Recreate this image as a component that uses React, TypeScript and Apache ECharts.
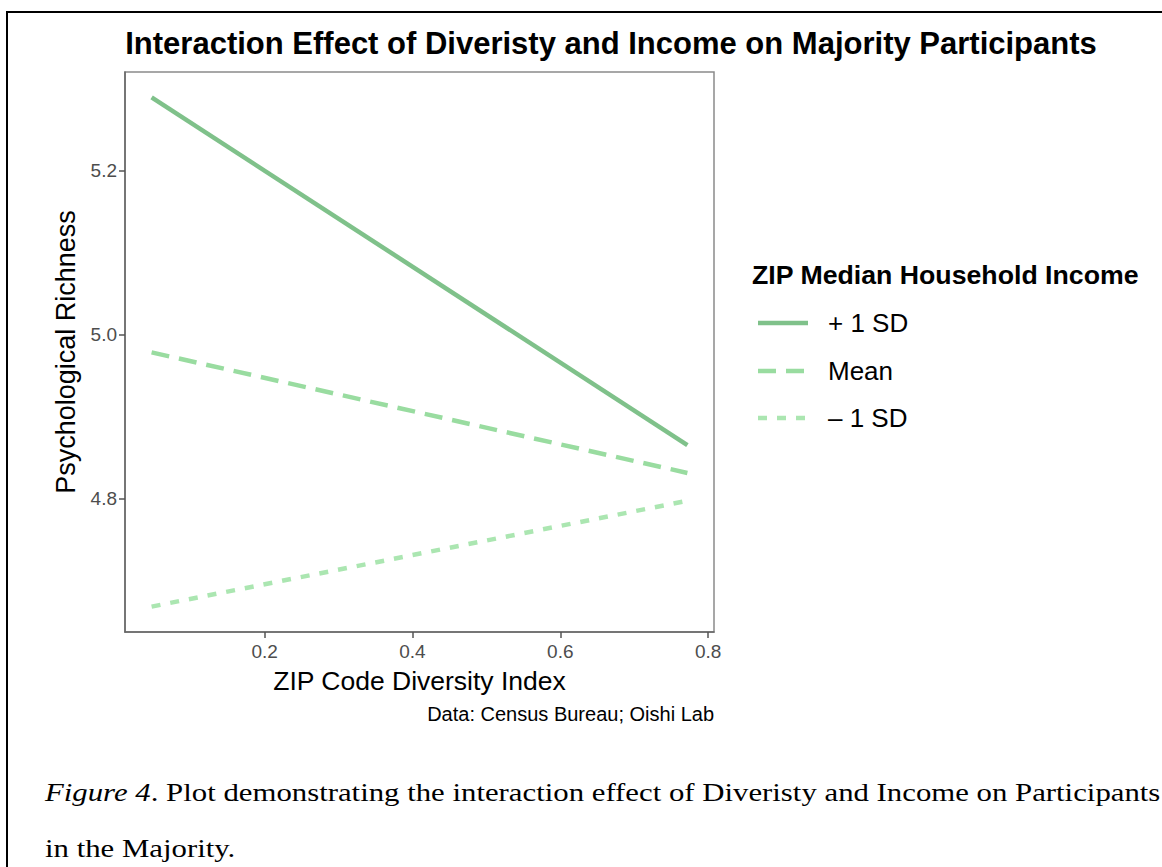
import React, { useEffect, useRef } from "react";
import * as echarts from "echarts";

// Predicted simple slopes at the low and high ends of the diversity index
const diversity = [0.047, 0.772];
const plusOneSD = [5.289, 4.865];
const meanIncome = [4.978, 4.831];
const minusOneSD = [4.668, 4.797];

const seriesNames = ["+ 1 SD", "Mean", "\u2013 1 SD"];
const seriesColors = ["#7fc18a", "#99dca0", "#abe6b1"];
const seriesDashes: (number[] | null)[] = [null, [18, 10], [9, 10]];

const xTicks = [0.2, 0.4, 0.6, 0.8];
const yTicks = [4.8, 5.0, 5.2];

const SANS = "'Liberation Sans', Arial, Helvetica, sans-serif";
const SERIF = "'Liberation Serif', 'Times New Roman', serif";

export default function App() {
  const ref = useRef<HTMLDivElement>(null);

  useEffect(() => {
    if (!ref.current) return;
    const chart = echarts.init(ref.current, null, { renderer: "svg" });

    const groups = [plusOneSD, meanIncome, minusOneSD];
    const series = groups.map((vals, i) => ({
      name: seriesNames[i],
      type: "line",
      data: diversity.map((x, j) => [x, vals[j]]),
      showSymbol: false,
      symbol: "none",
      lineStyle: {
        color: seriesColors[i],
        width: 4.5,
        type: seriesDashes[i] ?? "solid",
        cap: "butt",
      },
      z: 3,
    }));

    const legendY = [323, 371, 418];
    const legendGraphics: any[] = [];
    seriesNames.forEach((name, i) => {
      legendGraphics.push({
        type: "line",
        shape: { x1: 758, y1: legendY[i], x2: 808, y2: legendY[i] },
        style: {
          stroke: seriesColors[i],
          lineWidth: 4.5,
          lineDash: seriesDashes[i] ?? null,
        },
      });
      legendGraphics.push({
        type: "text",
        x: 828,
        y: legendY[i],
        style: {
          text: name,
          font: `26px ${SANS}`,
          fill: "#000",
          textAlign: "left",
          textVerticalAlign: "middle",
        },
      });
    });

    const option: any = {
      animation: false,
      backgroundColor: "#ffffff",
      grid: {
        left: 125,
        right: 448,
        top: 72,
        bottom: 235,
        show: true,
        borderColor: "#8a8a8a",
        borderWidth: 1.5,
        backgroundColor: "transparent",
      },
      xAxis: {
        type: "value",
        min: 0.011,
        max: 0.808,
        name: "ZIP Code Diversity Index",
        nameLocation: "middle",
        nameGap: 35,
        nameTextStyle: { fontFamily: SANS, fontSize: 26.5, color: "#000" },
        axisLine: { show: true, onZero: false, lineStyle: { color: "#666", width: 1.5 } },
        axisTick: {
          show: true,
          length: 6,
          customValues: xTicks,
          lineStyle: { color: "#555", width: 1.5 },
        },
        axisLabel: {
          customValues: xTicks,
          formatter: (v: number) => v.toFixed(1),
          fontFamily: SANS,
          fontSize: 19,
          color: "#4d4d4d",
          margin: 10,
        },
        splitLine: { show: false },
      },
      yAxis: {
        type: "value",
        min: 4.637,
        max: 5.32,
        name: "Psychological Richness",
        nameLocation: "middle",
        nameGap: 45,
        nameTextStyle: { fontFamily: SANS, fontSize: 27, color: "#000" },
        axisLine: { show: true, onZero: false, lineStyle: { color: "#666", width: 1.5 } },
        axisTick: {
          show: true,
          length: 6,
          customValues: yTicks,
          lineStyle: { color: "#555", width: 1.5 },
        },
        axisLabel: {
          customValues: yTicks,
          formatter: (v: number) => v.toFixed(1),
          fontFamily: SANS,
          fontSize: 19,
          color: "#4d4d4d",
          margin: 8,
        },
        splitLine: { show: false },
      },
      series,
      graphic: [
        {
          type: "rect",
          shape: { x: 7, y: 12, width: 1300, height: 1000 },
          style: { fill: "none", stroke: "#000", lineWidth: 2 },
          silent: true,
        },
        {
          type: "text",
          x: 611,
          y: 43,
          style: {
            text: "Interaction Effect of Diveristy and Income on Majority Participants",
            font: `bold 31px ${SANS}`,
            fill: "#000",
            textAlign: "center",
            textVerticalAlign: "middle",
          },
        },
        {
          type: "text",
          x: 714,
          y: 714,
          style: {
            text: "Data: Census Bureau; Oishi Lab",
            font: `20px ${SANS}`,
            fill: "#000",
            textAlign: "right",
            textVerticalAlign: "middle",
          },
        },
        {
          type: "text",
          x: 752,
          y: 275,
          style: {
            text: "ZIP Median Household Income",
            font: `bold 26.7px ${SANS}`,
            fill: "#000",
            textAlign: "left",
            textVerticalAlign: "middle",
          },
        },
        ...legendGraphics,
        {
          type: "text",
          x: 45,
          y: 792,
          scaleX: 1.184,
          style: {
            text: "{it|Figure 4}{rm|. Plot demonstrating the interaction effect of Diveristy and Income on Participants}",
            rich: {
              it: { fontFamily: SERIF, fontStyle: "italic", fontSize: 26, fill: "#000" },
              rm: { fontFamily: SERIF, fontSize: 26, fill: "#000" },
            },
            textAlign: "left",
            textVerticalAlign: "middle",
          },
        },
        {
          type: "text",
          x: 45,
          y: 848,
          scaleX: 1.184,
          style: {
            text: "in the Majority.",
            font: `26px ${SERIF}`,
            fill: "#000",
            textAlign: "left",
            textVerticalAlign: "middle",
          },
        },
      ],
    };

    chart.setOption(option);
    return () => chart.dispose();
  }, []);

  return (
    <div
      ref={ref}
      style={{
        position: "fixed",
        left: 0,
        top: 0,
        width: 1162,
        height: 867,
        background: "#fff",
      }}
    />
  );
}
